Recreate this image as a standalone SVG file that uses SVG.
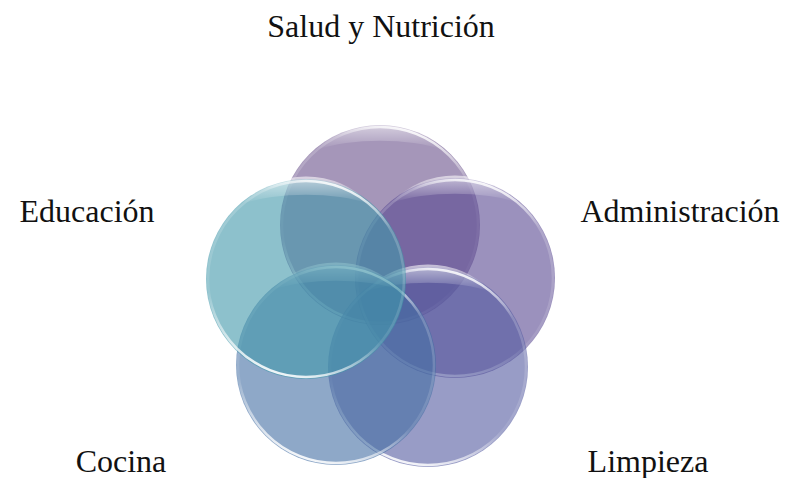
<svg xmlns="http://www.w3.org/2000/svg" width="786" height="478" viewBox="0 0 786 478">
  <defs>
    <linearGradient id="rim" x1="0.65" y1="0" x2="0.35" y2="1">
      <stop offset="0" stop-color="#ffffff" stop-opacity="0.95"/>
      <stop offset="0.15" stop-color="#ffffff" stop-opacity="0.2"/>
      <stop offset="0.7" stop-color="#ffffff" stop-opacity="0.1"/>
      <stop offset="1" stop-color="#ffffff" stop-opacity="0.95"/>
    </linearGradient>
    <linearGradient id="shine" x1="0" y1="0" x2="0" y2="1">
      <stop offset="0" stop-color="#ffffff" stop-opacity="0.6"/>
      <stop offset="1" stop-color="#ffffff" stop-opacity="0"/>
    </linearGradient>
    <style>
      .disc { fill-opacity: 0.6; stroke: none; }
      .rim { fill: none; stroke: url(#rim); stroke-width: 2.5; }
      .shine { fill: url(#shine); }
      .lbl { font-size: 32px; fill: #111111; text-anchor: middle; }
    </style>
  </defs>
  <rect width="786" height="478" fill="#ffffff"/>
  <g id="connectors"/>
  <g id="node-salud">
    <circle class="disc" cx="380" cy="225" r="100" fill="#69508a"/>
    <circle class="rim" cx="380" cy="225" r="98"/>
    <path class="shine" d="M316,150 A88,88 0 0 1 444,150 A100,40 0 0 0 316,150 Z"/>
    <text class="lbl" font-family="'Liberation Serif', 'DejaVu Serif', serif" x="381" y="37">Salud y Nutrición</text>
  </g>
  <g id="node-administracion">
    <circle class="disc" cx="455" cy="278" r="100" fill="#584891"/>
    <circle class="rim" cx="455" cy="278" r="98"/>
    <path class="shine" d="M391,203 A88,88 0 0 1 519,203 A100,40 0 0 0 391,203 Z"/>
    <text class="lbl" font-family="'Liberation Serif', 'DejaVu Serif', serif" x="680" y="222">Administración</text>
  </g>
  <g id="node-limpieza">
    <circle class="disc" cx="428" cy="367" r="100" fill="#535aa0"/>
    <circle class="rim" cx="428" cy="367" r="98"/>
    <path class="shine" d="M364,292 A88,88 0 0 1 492,292 A100,40 0 0 0 364,292 Z"/>
    <text class="lbl" font-family="'Liberation Serif', 'DejaVu Serif', serif" x="648" y="472">Limpieza</text>
  </g>
  <g id="node-cocina">
    <circle class="disc" cx="336" cy="365" r="100" fill="#436ea3"/>
    <circle class="rim" cx="336" cy="365" r="98"/>
    <path class="shine" d="M272,290 A88,88 0 0 1 400,290 A100,40 0 0 0 272,290 Z"/>
    <text class="lbl" font-family="'Liberation Serif', 'DejaVu Serif', serif" x="121" y="472">Cocina</text>
  </g>
  <g id="node-educacion">
    <circle class="disc" cx="306" cy="279" r="100" fill="#4198aa"/>
    <circle class="rim" cx="306" cy="279" r="98"/>
    <path class="shine" d="M242,204 A88,88 0 0 1 370,204 A100,40 0 0 0 242,204 Z"/>
    <text class="lbl" font-family="'Liberation Serif', 'DejaVu Serif', serif" x="87" y="222">Educación</text>
  </g>
</svg>
